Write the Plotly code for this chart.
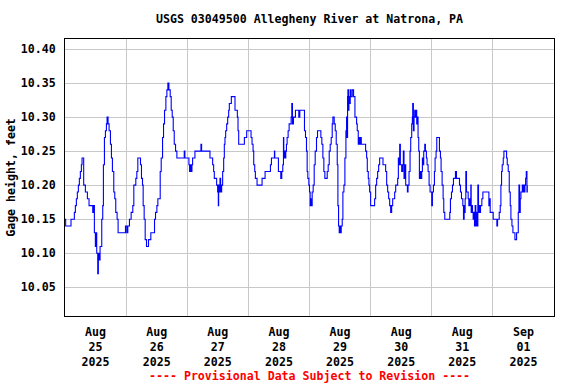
import pandas as pd
import plotly.graph_objects as go

# ---- data (hours after 2025-08-25 00:00, gage height in feet) ----
hours = [
    0.0, 0.26, 2.36, 3.67, 4.07, 4.46, 4.85, 5.25, 5.64, 6.03, 6.43, 6.69, 7.34, 8.0, 8.79, 9.44,
    10.89, 11.28, 11.54, 11.93, 12.2, 12.46, 12.85, 13.1, 13.5, 13.77, 14.43, 14.82, 15.08, 15.48,
    15.87, 16.26, 16.52, 16.92, 17.31, 17.84, 18.23, 18.62, 19.15, 19.54, 19.93, 20.46, 20.85,
    23.74, 24.26, 24.66, 25.31, 25.97, 26.62, 27.02, 27.8, 28.2, 28.59, 29.64, 30.03, 30.43,
    30.69, 31.08, 31.48, 32.0, 32.79, 33.7, 35.15, 35.54, 36.07, 36.46, 37.38, 37.77, 38.3,
    38.69, 39.08, 39.61, 40.0, 40.39, 40.79, 41.31, 41.7, 42.1, 42.49, 42.89, 43.41, 43.93,
    46.82, 47.08,
    48.66, 48.92, 49.31, 49.57, 49.84, 50.1, 51.02, 53.38, 53.64, 56.92, 57.97, 58.36, 58.62,
    59.54, 59.93, 60.2, 60.33, 60.59, 60.85, 61.11, 61.51, 61.9, 62.3, 62.56, 62.82, 63.08,
    63.48, 63.87, 64.26, 64.52, 65.31, 66.75, 67.67, 67.93, 68.2, 70.43, 71.34, 73.05, 73.44,
    73.84, 74.1, 74.49, 74.75, 75.41, 77.38, 78.56, 80.66, 81.05, 82.23, 82.36, 83.8, 84.72,
    85.11, 85.51, 85.77, 85.9, 86.16, 86.43, 86.69, 86.95, 87.21, 87.61, 88.0, 88.79, 89.05,
    89.31, 89.7, 90.49, 91.8, 92.2, 94.03, 94.43, 94.82,
    95.08, 95.34, 95.74, 96.0, 96.26, 96.52, 96.79, 97.05, 97.44, 97.84, 98.23, 98.75, 99.15,
    100.46, 100.85, 101.25, 101.64, 102.03, 102.95, 103.34, 103.74, 104.13, 104.52, 104.92,
    105.18, 105.7, 106.1, 106.49, 106.89, 107.15, 107.41, 107.67, 107.93, 108.2, 108.46,
    108.85, 109.11, 109.51, 109.9, 110.3, 110.56, 110.69, 110.95, 111.08, 111.34, 111.48,
    111.74, 112.0, 112.26, 112.79, 113.31, 113.84, 114.49, 114.75, 115.15, 115.41, 115.67,
    115.93, 116.33, 118.03, 118.43, 118.69, 119.08, 119.34, 119.61, 120.0, 121.57, 121.97,
    122.36, 122.75, 123.15, 123.54, 124.85, 125.9, 126.3, 126.69, 127.08, 127.48, 127.87,
    128.26, 128.66, 129.44, 129.84, 130.62, 130.89, 131.15, 131.41, 131.67, 132.2, 132.59,
    132.85, 133.11, 133.51, 133.77, 134.43, 134.69, 135.08, 135.48, 135.74, 136.13, 136.39,
    136.52, 136.79, 137.05, 137.31, 137.57, 137.84, 138.1, 138.36, 138.62, 138.89, 139.15,
    139.41, 139.8, 140.07, 140.33, 140.59, 140.85, 141.25, 141.51, 141.9, 142.16, 142.56,
    142.95, 143.34, 144.0, 144.26, 144.66, 145.05, 145.31, 145.7, 145.97, 147.02, 147.41,
    147.67, 148.07, 148.46, 148.72, 149.11, 151.08, 151.34, 151.74, 152.13, 152.52, 153.31,
    153.7, 154.89, 155.28, 155.67, 156.2, 156.46, 156.72, 156.85, 157.11, 157.38, 157.64,
    158.3, 158.56, 158.82, 159.08, 159.34, 159.48, 159.74, 160.0, 160.26, 160.52, 160.79,
    161.05, 161.31, 161.57, 161.84, 162.1, 162.36, 162.62, 162.89, 163.15, 163.67, 164.07,
    166.43, 166.69, 166.95, 168.13, 169.57, 169.84, 170.49, 170.89, 171.15, 171.41, 171.67,
    172.07, 172.33, 173.38, 173.64, 174.03, 174.43, 174.82, 175.08, 175.48, 175.87, 176.66,
    177.31, 177.97, 178.23, 178.49, 178.75, 179.02, 179.54, 179.8, 180.07, 180.33, 180.59,
    180.85, 181.11, 181.38, 181.51,
]
gage_ft = [
    10.15, 10.14, 10.15, 10.16, 10.17, 10.18, 10.19, 10.20, 10.21, 10.22, 10.23, 10.24, 10.20, 10.19, 10.18, 10.17,
    10.16, 10.17, 10.13, 10.11, 10.13, 10.10, 10.07, 10.10, 10.09, 10.11, 10.15, 10.17, 10.23, 10.27,
    10.28, 10.29, 10.30, 10.29, 10.28, 10.26, 10.24, 10.22, 10.19, 10.18, 10.16, 10.15, 10.13,
    10.14, 10.13, 10.14, 10.15, 10.16, 10.17, 10.20, 10.21, 10.22, 10.24, 10.23, 10.21, 10.20,
    10.17, 10.15, 10.12, 10.11, 10.12, 10.13, 10.15, 10.16, 10.17, 10.18, 10.22, 10.24, 10.27,
    10.29, 10.31, 10.33, 10.34, 10.35, 10.34, 10.33, 10.31, 10.30, 10.28, 10.26, 10.25, 10.24,
    10.25, 10.24,
    10.23, 10.22, 10.23, 10.22, 10.23, 10.24, 10.25, 10.26, 10.25, 10.24, 10.23, 10.22, 10.21,
    10.20, 10.19, 10.17, 10.20, 10.19, 10.21, 10.19, 10.20, 10.22, 10.24, 10.26, 10.27, 10.28,
    10.29, 10.30, 10.31, 10.32, 10.33, 10.31, 10.30, 10.28, 10.26, 10.27, 10.28, 10.27, 10.26,
    10.25, 10.23, 10.22, 10.21, 10.20, 10.21, 10.22, 10.23, 10.24, 10.25, 10.24, 10.22, 10.21,
    10.22, 10.23, 10.27, 10.24, 10.25, 10.24, 10.25, 10.26, 10.27, 10.28, 10.29, 10.30, 10.32,
    10.29, 10.30, 10.31, 10.30, 10.31, 10.28, 10.27, 10.25,
    10.22, 10.21, 10.20, 10.19, 10.17, 10.18, 10.17, 10.19, 10.20, 10.23, 10.25, 10.27, 10.28,
    10.27, 10.26, 10.24, 10.22, 10.21, 10.22, 10.23, 10.25, 10.26, 10.27, 10.29,
    10.30, 10.29, 10.28, 10.26, 10.23, 10.17, 10.14, 10.13, 10.14, 10.13, 10.14,
    10.15, 10.19, 10.20, 10.24, 10.28, 10.30, 10.27, 10.33, 10.34, 10.31, 10.33,
    10.32, 10.34, 10.33, 10.34, 10.33, 10.30, 10.29, 10.28, 10.26, 10.27, 10.26,
    10.27, 10.26, 10.25, 10.24, 10.22, 10.21, 10.20, 10.19, 10.17, 10.18, 10.20,
    10.21, 10.22, 10.23, 10.24, 10.23, 10.22, 10.20, 10.19, 10.18, 10.17, 10.16,
    10.17, 10.18, 10.19, 10.20, 10.21, 10.24, 10.23, 10.26, 10.23, 10.22, 10.23,
    10.25, 10.21, 10.23, 10.20, 10.19, 10.20, 10.22, 10.25, 10.27, 10.29, 10.30,
    10.32, 10.28, 10.30, 10.31, 10.30, 10.31, 10.29, 10.30, 10.27, 10.25, 10.21,
    10.22, 10.21, 10.22, 10.24, 10.23, 10.25, 10.26, 10.25, 10.24, 10.23, 10.22,
    10.20, 10.19, 10.17, 10.19, 10.20, 10.22, 10.24, 10.25, 10.27, 10.25, 10.24,
    10.22, 10.20, 10.18, 10.16, 10.15, 10.16, 10.18, 10.19, 10.20, 10.21, 10.22,
    10.21, 10.20, 10.19, 10.18, 10.17, 10.15, 10.17, 10.16, 10.18, 10.22, 10.19,
    10.18, 10.17, 10.18, 10.17, 10.20, 10.16, 10.17, 10.16, 10.15, 10.16, 10.14,
    10.17, 10.14, 10.16, 10.14, 10.20, 10.16, 10.17, 10.16, 10.17, 10.18, 10.19,
    10.17, 10.18, 10.16, 10.15, 10.14, 10.15, 10.16, 10.17, 10.20, 10.22, 10.23,
    10.24, 10.25, 10.24, 10.23, 10.22, 10.19, 10.17, 10.15, 10.14, 10.13, 10.12,
    10.13, 10.16, 10.20, 10.16, 10.18, 10.19, 10.20, 10.19, 10.20, 10.19, 10.20,
    10.21, 10.22, 10.19, 10.20,
]
day_labels = ["Aug<br>25<br>2025", "Aug<br>26<br>2025", "Aug<br>27<br>2025", "Aug<br>28<br>2025",
              "Aug<br>29<br>2025", "Aug<br>30<br>2025", "Aug<br>31<br>2025", "Sep<br>01<br>2025"]
day_starts = pd.date_range("2025-08-25", "2025-09-02", freq="D")
y_ticks = [10.05, 10.10, 10.15, 10.20, 10.25, 10.30, 10.35, 10.40]

start = pd.Timestamp("2025-08-25 00:00")
times = start + pd.to_timedelta(hours, unit="h")
noon_ticks = day_starts[:-1] + pd.Timedelta(hours=12)

FONT = "DejaVu Sans Mono"
FS = 11.6

fig = go.Figure(go.Scatter(
    x=times, y=gage_ft, mode="lines", line=dict(color="#0000FF", width=1.1, shape="hv"),
    hoverinfo="x+y",
))

fig.update_layout(
    width=576, height=384,
    margin=dict(l=65, r=22, t=39, b=68, autoexpand=False),
    paper_bgcolor="white", plot_bgcolor="white",
    font=dict(family=FONT, size=FS, color="black", weight="bold"),
    showlegend=False,
    title=dict(text="USGS 03049500 Allegheny River at Natrona, PA",
               x=0.5, xref="paper", xanchor="center",
               y=(384 - 19) / 384, yref="container", yanchor="middle",
               font=dict(family=FONT, size=FS, color="black", weight="bold")),
    xaxis=dict(
        type="date", range=[day_starts[0], day_starts[-1]],
        tickmode="array", tickvals=noon_ticks, ticktext=day_labels,
        showgrid=False, ticks="outside", ticklen=5, tickcolor="rgba(0,0,0,0)",
        minor=dict(tickmode="array", tickvals=day_starts, showgrid=True,
                   gridcolor="#C8C8C8", gridwidth=1, ticks=""),
        showline=True, linecolor="black", linewidth=1, mirror=True,
        zeroline=False, fixedrange=True, automargin=False,
    ),
    yaxis=dict(
        range=[10.0078, 10.4147],
        tickmode="array", tickvals=y_ticks, ticktext=[f"{v:.2f}" for v in y_ticks],
        showgrid=True, gridcolor="#C8C8C8", gridwidth=1,
        ticks="outside", ticklen=6, tickcolor="rgba(0,0,0,0)",
        showline=True, linecolor="black", linewidth=1, mirror=True,
        zeroline=False, automargin=False,
        title=dict(text="Gage height, feet", standoff=2,
                   font=dict(family=FONT, size=FS, color="black", weight="bold")),
    ),
    annotations=[dict(
        text="---- Provisional Data Subject to Revision ----",
        xref="paper", yref="paper", x=0.5, y=-(376 - 316) / (316 - 39),
        xanchor="center", yanchor="middle", showarrow=False,
        font=dict(family=FONT, size=FS, color="#FF0000", weight="bold"),
    )],
)

fig.write_html("out.html", config={"displayModeBar": False},
               post_script="document.body.style.margin='0px';")
